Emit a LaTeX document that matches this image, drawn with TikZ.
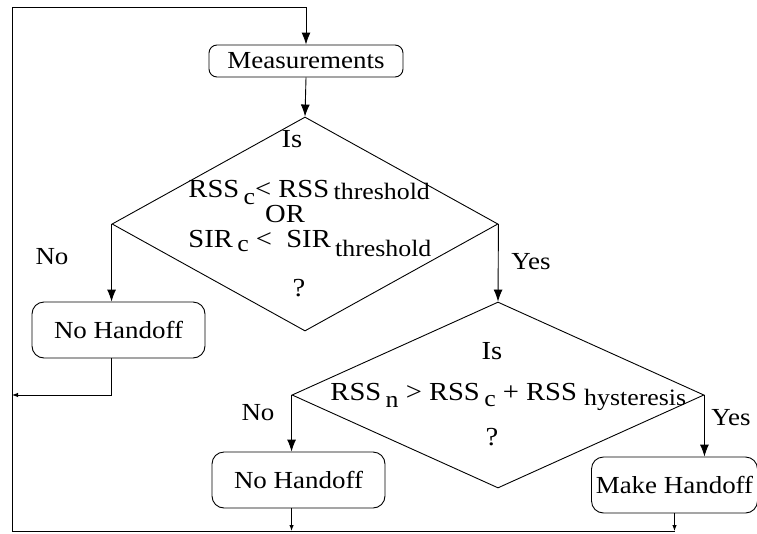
\documentclass[tikz,border=0pt]{standalone}
\usepackage{fontspec}
\setmainfont{Liberation Serif}[FakeStretch=1.1]
\usetikzlibrary{shapes.geometric,arrows.meta,calc}
% lowered, slightly smaller subscript text
\newcommand\subtxt[2]{\raisebox{-#1pt}{\fontsize{23.5}{25}\selectfont #2}}
\begin{document}
\begin{tikzpicture}[x=1pt,y=-1pt,
  line width=0.9pt,
  every node/.style={inner sep=0pt},
  box/.style={draw, rounded corners=12pt, font=\fontsize{24.5}{28}\selectfont},
  decision/.style={draw, diamond},
  txt/.style={font=\fontsize{24.5}{28}\selectfont},
  dtxt/.style={font=\fontsize{26}{28}\selectfont},
  flow/.style={-{Latex[length=12pt,width=9pt]}},
  back/.style={-{Latex[length=6pt,width=4.5pt]}},
]
\useasboundingbox (0,0) rectangle (757,533);

% process boxes
\node[box, rounded corners=8pt, minimum width=194pt, minimum height=32pt] (meas) at (306,61) {Measurements};
\node[box, minimum width=173pt, minimum height=56pt] (nh1) at (118.5,330) {No Handoff};
\node[box, minimum width=173pt, minimum height=56pt] (nh2) at (298.5,480) {No Handoff};
\node[box, minimum width=166pt, minimum height=56pt] (mk) at (674.5,485) {Make Handoff};

% decisions
\node[decision, minimum width=386pt, minimum height=214pt] (d1) at (305,224) {};
\node[decision, minimum width=412pt, minimum height=186pt] (d2) at (498,395) {};

% text of the first decision
\node[dtxt] (d1is) at (292,139) {Is};
\node[dtxt, anchor=base west] (d1a) at (188,197) {RSS\,\subtxt{7}{c}<\ RSS\,\subtxt{2}{threshold}};
\node[dtxt, anchor=base] (d1or) at (285,222) {OR};
\node[dtxt, anchor=base west] (d1b) at (188,247) {SIR\,\subtxt{4}{c} <\ \ SIR\,\subtxt{9}{threshold}};
\node[dtxt] (d1q) at (299,288) {?};

% text of the second decision
\node[dtxt] (d2is) at (492,351) {Is};
\node[dtxt, anchor=base west] (d2a) at (330,400) {RSS\,\subtxt{7}{n} > RSS\,\subtxt{6}{c} + RSS \subtxt{5}{hysteresis}};
\node[dtxt] (d2q) at (492,437) {?};

% branch labels
\node[txt] (no1) at (52,257) {No};
\node[txt] (yes1) at (531,262) {Yes};
\node[txt] (no2) at (258,413) {No};
\node[txt] (yes2) at (731,418) {Yes};

% loop-back frame
\coordinate (c-tl) at (12,7);
\coordinate (c-bl) at (12,531);
\coordinate (c-mid) at (12,395);

% connectors
\draw[flow] (c-bl) -- (c-tl) -| (meas.north);
\draw[flow] (meas.south) -- (d1.north);
\draw[flow] (d1.west) -- (d1.west |- nh1.north);
\draw[flow] (d1.east) -- (d2.north);
\draw[flow] (d2.west) -- (d2.west |- nh2.north);
\draw[flow] (d2.east) -- (d2.east |- mk.north);
\draw[back] (d1.west |- nh1.south) |- (c-mid);
\draw (c-bl) -- (mk.south |- c-bl);
\draw[back] (d2.west |- nh2.south) -- (d2.west |- c-bl);
\draw[back] (mk.south) -- (mk.south |- c-bl);
\end{tikzpicture}
\end{document}
